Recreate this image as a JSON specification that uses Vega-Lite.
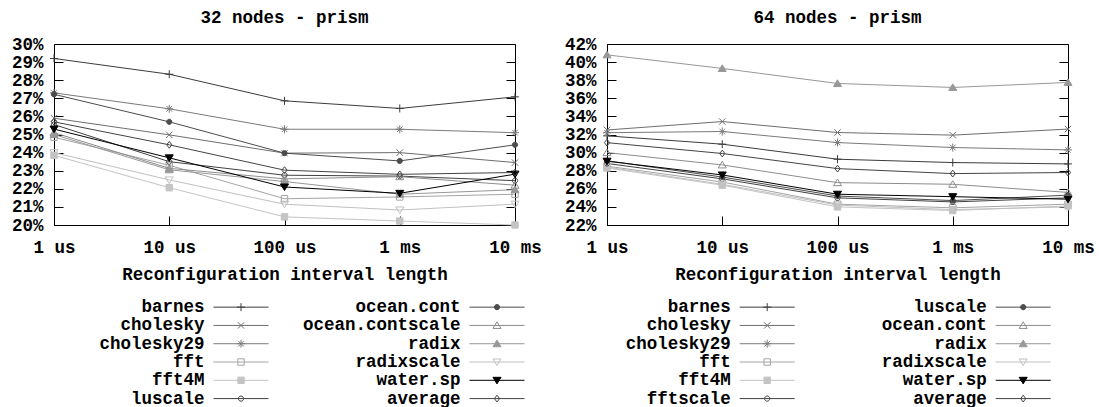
{
  "$schema": "https://vega.github.io/schema/vega-lite/v6.json",
  "padding": {"left": 10, "top": 8, "right": 5, "bottom": 0},
  "autosize": {"type": "pad"},
  "bounds": "flush",
  "spacing": 92,
  "resolve": {"scale": {"stroke": "independent", "shape": "independent", "fill": "independent"}},
  "config": {
    "font": "Liberation Mono",
    "view": {"stroke": "#000000", "strokeWidth": 1},
    "axis": {
      "labelFont": "Liberation Mono", "labelFontSize": 17.5, "labelFontWeight": "bold", "labelColor": "#000000",
      "titleFont": "Liberation Mono", "titleFontSize": 17.5, "titleFontWeight": "bold", "titleColor": "#000000",
      "domain": false, "grid": false, "tickColor": "#000000", "tickSize": -9, "tickWidth": 1
    },
    "title": {"font": "Liberation Mono", "fontSize": 17.5, "fontWeight": "bold", "color": "#000000", "offset": 9},
    "text": {"font": "Liberation Mono", "fontSize": 17.5, "fontWeight": "bold", "color": "#000000"}
  },
  "datasets": {
    "L": [
      {"x": "1 us", "series": "barnes", "v": 29.2}, {"x": "10 us", "series": "barnes", "v": 28.33}, {"x": "100 us", "series": "barnes", "v": 26.86}, {"x": "1 ms", "series": "barnes", "v": 26.44}, {"x": "10 ms", "series": "barnes", "v": 27.08},
      {"x": "1 us", "series": "cholesky", "v": 25.9}, {"x": "10 us", "series": "cholesky", "v": 24.98}, {"x": "100 us", "series": "cholesky", "v": 23.97}, {"x": "1 ms", "series": "cholesky", "v": 24.0}, {"x": "10 ms", "series": "cholesky", "v": 23.45},
      {"x": "1 us", "series": "cholesky29", "v": 27.3}, {"x": "10 us", "series": "cholesky29", "v": 26.42}, {"x": "100 us", "series": "cholesky29", "v": 25.29}, {"x": "1 ms", "series": "cholesky29", "v": 25.29}, {"x": "10 ms", "series": "cholesky29", "v": 25.1},
      {"x": "1 us", "series": "fft", "v": 24.85}, {"x": "10 us", "series": "fft", "v": 23.3}, {"x": "100 us", "series": "fft", "v": 21.45}, {"x": "1 ms", "series": "fft", "v": 21.55}, {"x": "10 ms", "series": "fft", "v": 21.7},
      {"x": "1 us", "series": "fft4M", "v": 23.85}, {"x": "10 us", "series": "fft4M", "v": 22.06}, {"x": "100 us", "series": "fft4M", "v": 20.45}, {"x": "1 ms", "series": "fft4M", "v": 20.22}, {"x": "10 ms", "series": "fft4M", "v": 20.0},
      {"x": "1 us", "series": "luscale", "v": 25.55}, {"x": "10 us", "series": "luscale", "v": 23.5}, {"x": "100 us", "series": "luscale", "v": 22.75}, {"x": "1 ms", "series": "luscale", "v": 22.7}, {"x": "10 ms", "series": "luscale", "v": 22.45},
      {"x": "1 us", "series": "ocean.cont", "v": 27.22}, {"x": "10 us", "series": "ocean.cont", "v": 25.7}, {"x": "100 us", "series": "ocean.cont", "v": 23.97}, {"x": "1 ms", "series": "ocean.cont", "v": 23.54}, {"x": "10 ms", "series": "ocean.cont", "v": 24.43},
      {"x": "1 us", "series": "ocean.contscale", "v": 25.1}, {"x": "10 us", "series": "ocean.contscale", "v": 23.13}, {"x": "100 us", "series": "ocean.contscale", "v": 22.55}, {"x": "1 ms", "series": "ocean.contscale", "v": 22.67}, {"x": "10 ms", "series": "ocean.contscale", "v": 22.2},
      {"x": "1 us", "series": "radix", "v": 25.0}, {"x": "10 us", "series": "radix", "v": 23.05}, {"x": "100 us", "series": "radix", "v": 22.4}, {"x": "1 ms", "series": "radix", "v": 21.7}, {"x": "10 ms", "series": "radix", "v": 21.95},
      {"x": "1 us", "series": "radixscale", "v": 24.0}, {"x": "10 us", "series": "radixscale", "v": 22.49}, {"x": "100 us", "series": "radixscale", "v": 21.15}, {"x": "1 ms", "series": "radixscale", "v": 20.83}, {"x": "10 ms", "series": "radixscale", "v": 21.15},
      {"x": "1 us", "series": "water.sp", "v": 25.3}, {"x": "10 us", "series": "water.sp", "v": 23.71}, {"x": "100 us", "series": "water.sp", "v": 22.1}, {"x": "1 ms", "series": "water.sp", "v": 21.75}, {"x": "10 ms", "series": "water.sp", "v": 22.81},
      {"x": "1 us", "series": "average", "v": 25.7}, {"x": "10 us", "series": "average", "v": 24.43}, {"x": "100 us", "series": "average", "v": 23.03}, {"x": "1 ms", "series": "average", "v": 22.8}, {"x": "10 ms", "series": "average", "v": 22.9}
    ],
    "R": [
      {"x": "1 us", "series": "barnes", "v": 31.85}, {"x": "10 us", "series": "barnes", "v": 30.93}, {"x": "100 us", "series": "barnes", "v": 29.27}, {"x": "1 ms", "series": "barnes", "v": 28.9}, {"x": "10 ms", "series": "barnes", "v": 28.75},
      {"x": "1 us", "series": "cholesky", "v": 32.5}, {"x": "10 us", "series": "cholesky", "v": 33.43}, {"x": "100 us", "series": "cholesky", "v": 32.22}, {"x": "1 ms", "series": "cholesky", "v": 31.93}, {"x": "10 ms", "series": "cholesky", "v": 32.6},
      {"x": "1 us", "series": "cholesky29", "v": 32.2}, {"x": "10 us", "series": "cholesky29", "v": 32.33}, {"x": "100 us", "series": "cholesky29", "v": 31.11}, {"x": "1 ms", "series": "cholesky29", "v": 30.56}, {"x": "10 ms", "series": "cholesky29", "v": 30.3},
      {"x": "1 us", "series": "fft", "v": 28.5}, {"x": "10 us", "series": "fft", "v": 26.75}, {"x": "100 us", "series": "fft", "v": 24.3}, {"x": "1 ms", "series": "fft", "v": 23.9}, {"x": "10 ms", "series": "fft", "v": 24.3},
      {"x": "1 us", "series": "fft4M", "v": 28.3}, {"x": "10 us", "series": "fft4M", "v": 26.4}, {"x": "100 us", "series": "fft4M", "v": 24.0}, {"x": "1 ms", "series": "fft4M", "v": 23.6}, {"x": "10 ms", "series": "fft4M", "v": 24.1},
      {"x": "1 us", "series": "fftscale", "v": 28.8}, {"x": "10 us", "series": "fftscale", "v": 27.1}, {"x": "100 us", "series": "fftscale", "v": 25.0}, {"x": "1 ms", "series": "fftscale", "v": 24.55}, {"x": "10 ms", "series": "fftscale", "v": 25.0},
      {"x": "1 us", "series": "luscale", "v": 29.1}, {"x": "10 us", "series": "luscale", "v": 27.3}, {"x": "100 us", "series": "luscale", "v": 25.2}, {"x": "1 ms", "series": "luscale", "v": 24.7}, {"x": "10 ms", "series": "luscale", "v": 25.3},
      {"x": "1 us", "series": "ocean.cont", "v": 30.0}, {"x": "10 us", "series": "ocean.cont", "v": 28.64}, {"x": "100 us", "series": "ocean.cont", "v": 26.68}, {"x": "1 ms", "series": "ocean.cont", "v": 26.5}, {"x": "10 ms", "series": "ocean.cont", "v": 25.6},
      {"x": "1 us", "series": "radix", "v": 40.8}, {"x": "10 us", "series": "radix", "v": 39.3}, {"x": "100 us", "series": "radix", "v": 37.64}, {"x": "1 ms", "series": "radix", "v": 37.2}, {"x": "10 ms", "series": "radix", "v": 37.75},
      {"x": "1 us", "series": "radixscale", "v": 28.4}, {"x": "10 us", "series": "radixscale", "v": 26.5}, {"x": "100 us", "series": "radixscale", "v": 24.2}, {"x": "1 ms", "series": "radixscale", "v": 23.7}, {"x": "10 ms", "series": "radixscale", "v": 24.0},
      {"x": "1 us", "series": "water.sp", "v": 29.05}, {"x": "10 us", "series": "water.sp", "v": 27.53}, {"x": "100 us", "series": "water.sp", "v": 25.4}, {"x": "1 ms", "series": "water.sp", "v": 25.13}, {"x": "10 ms", "series": "water.sp", "v": 24.85},
      {"x": "1 us", "series": "average", "v": 31.1}, {"x": "10 us", "series": "average", "v": 29.9}, {"x": "100 us", "series": "average", "v": 28.23}, {"x": "1 ms", "series": "average", "v": 27.68}, {"x": "10 ms", "series": "average", "v": 27.8}
    ],
    "LL": [
      {"series": "barnes", "col": 1, "row": 1}, {"series": "cholesky", "col": 1, "row": 2}, {"series": "cholesky29", "col": 1, "row": 3},
      {"series": "fft", "col": 1, "row": 4}, {"series": "fft4M", "col": 1, "row": 5}, {"series": "luscale", "col": 1, "row": 6},
      {"series": "ocean.cont", "col": 2, "row": 1}, {"series": "ocean.contscale", "col": 2, "row": 2}, {"series": "radix", "col": 2, "row": 3},
      {"series": "radixscale", "col": 2, "row": 4}, {"series": "water.sp", "col": 2, "row": 5}, {"series": "average", "col": 2, "row": 6}
    ],
    "LR": [
      {"series": "barnes", "col": 1, "row": 1}, {"series": "cholesky", "col": 1, "row": 2}, {"series": "cholesky29", "col": 1, "row": 3},
      {"series": "fft", "col": 1, "row": 4}, {"series": "fft4M", "col": 1, "row": 5}, {"series": "fftscale", "col": 1, "row": 6},
      {"series": "luscale", "col": 2, "row": 1}, {"series": "ocean.cont", "col": 2, "row": 2}, {"series": "radix", "col": 2, "row": 3},
      {"series": "radixscale", "col": 2, "row": 4}, {"series": "water.sp", "col": 2, "row": 5}, {"series": "average", "col": 2, "row": 6}
    ]
  },
  "hconcat": [
    {
      "width": 461, "height": 181,
      "title": {"text": "32 nodes - prism"},
      "resolve": {"scale": {"x": "independent", "y": "independent"}},
      "layer": [
        {
          "data": {"name": "L"},
          "encoding": {
            "x": {"field": "x", "type": "ordinal", "sort": ["1 us", "10 us", "100 us", "1 ms", "10 ms"], "scale": {"type": "point", "padding": 0}, "axis": {"labelAngle": 0, "labelPadding": 22, "titlePadding": 10}, "title": "Reconfiguration interval length"},
            "y": {"field": "v", "type": "quantitative", "scale": {"domain": [20, 30], "nice": false, "zero": false}, "axis": {"values": [20, 21, 22, 23, 24, 25, 26, 27, 28, 29, 30], "labelExpr": "datum.value + '%'", "labelPadding": 20}, "title": null},
            "stroke": {"field": "series", "type": "nominal", "scale": {"domain": ["barnes", "cholesky", "cholesky29", "fft", "fft4M", "luscale", "ocean.cont", "ocean.contscale", "radix", "radixscale", "water.sp", "average"], "range": ["#3c3c3c", "#6e6e6e", "#7a7a7a", "#a4a4a4", "#c4c4c4", "#404040", "#4c4c4c", "#8c8c8c", "#989898", "#c0c0c0", "#000000", "#444444"]}, "legend": null},
            "detail": {"field": "series"}
          },
          "layer": [
            {"mark": {"type": "line", "strokeWidth": 1}},
            {"mark": {"type": "point", "size": 64, "strokeWidth": 1, "opacity": 1},
             "encoding": {
               "shape": {"field": "series", "type": "nominal", "scale": {"domain": ["barnes", "cholesky", "cholesky29", "fft", "fft4M", "luscale", "ocean.cont", "ocean.contscale", "radix", "radixscale", "water.sp", "average"], "range": ["M-1,0L1,0M0,-1L0,1", "M-0.8,-0.8L0.8,0.8M-0.8,0.8L0.8,-0.8", "M-1,0L1,0M0,-1L0,1M-0.7,-0.7L0.7,0.7M-0.7,0.7L0.7,-0.7", "M-0.8,-0.8L0.8,-0.8L0.8,0.8L-0.8,0.8Z", "M-0.8,-0.8L0.8,-0.8L0.8,0.8L-0.8,0.8Z", "M-0.65,0A0.65,0.65 0 1,0 0.65,0A0.65,0.65 0 1,0 -0.65,0Z", "M-0.65,0A0.65,0.65 0 1,0 0.65,0A0.65,0.65 0 1,0 -0.65,0Z", "M0,-0.9L1,0.75L-1,0.75Z", "M0,-0.9L1,0.75L-1,0.75Z", "M0,0.9L1,-0.75L-1,-0.75Z", "M0,0.9L1,-0.75L-1,-0.75Z", "M0,-0.85L0.65,0L0,0.85L-0.65,0Z"]}, "legend": null},
               "fill": {"field": "series", "type": "nominal", "scale": {"domain": ["barnes", "cholesky", "cholesky29", "fft", "fft4M", "luscale", "ocean.cont", "ocean.contscale", "radix", "radixscale", "water.sp", "average"], "range": ["transparent", "transparent", "transparent", "transparent", "#c4c4c4", "transparent", "#4c4c4c", "transparent", "#989898", "transparent", "#000000", "transparent"]}, "legend": null}
             }}
          ]
        },
        {
          "data": {"name": "L"},
          "mark": {"type": "point", "opacity": 0},
          "encoding": {
            "x": {"field": "x", "type": "ordinal", "scale": {"type": "point", "padding": 0}, "axis": null},
            "y": {"field": "v", "type": "quantitative", "scale": {"domain": [20, 30], "nice": false, "zero": false}, "axis": {"orient": "right", "values": [20, 21, 22, 23, 24, 25, 26, 27, 28, 29, 30], "labels": false, "title": null}}
          }
        },
        {
          "data": {"name": "LL"},
          "encoding": {
            "x": {"field": "col", "type": "quantitative", "scale": {"domain": [0.4121, 2.2129], "nice": false, "zero": false}, "axis": null},
            "y": {"field": "row", "type": "quantitative", "scale": {"domain": [-13.387, -3.491], "reverse": true, "nice": false, "zero": false}, "axis": null}
          },
          "layer": [
            {"mark": {"type": "rule", "xOffset": 9, "x2Offset": 64, "strokeWidth": 1},
             "encoding": {"x2": {"field": "col"}, "stroke": {"field": "series", "type": "nominal", "legend": null}}},
            {"mark": {"type": "point", "xOffset": 36.5, "size": 64, "strokeWidth": 1, "opacity": 1},
             "encoding": {"stroke": {"field": "series", "type": "nominal", "legend": null}, "shape": {"field": "series", "type": "nominal", "legend": null}, "fill": {"field": "series", "type": "nominal", "legend": null}}},
            {"mark": {"type": "text", "align": "right", "baseline": "middle"},
             "encoding": {"text": {"field": "series"}}}
          ]
        }
      ]
    },
    {
      "width": 461, "height": 181,
      "title": {"text": "64 nodes - prism"},
      "resolve": {"scale": {"x": "independent", "y": "independent"}},
      "layer": [
        {
          "data": {"name": "R"},
          "encoding": {
            "x": {"field": "x", "type": "ordinal", "sort": ["1 us", "10 us", "100 us", "1 ms", "10 ms"], "scale": {"type": "point", "padding": 0}, "axis": {"labelAngle": 0, "labelPadding": 22, "titlePadding": 10}, "title": "Reconfiguration interval length"},
            "y": {"field": "v", "type": "quantitative", "scale": {"domain": [22, 42], "nice": false, "zero": false}, "axis": {"values": [22, 24, 26, 28, 30, 32, 34, 36, 38, 40, 42], "labelExpr": "datum.value + '%'", "labelPadding": 20}, "title": null},
            "stroke": {"field": "series", "type": "nominal", "scale": {"domain": ["barnes", "cholesky", "cholesky29", "fft", "fft4M", "fftscale", "luscale", "ocean.cont", "radix", "radixscale", "water.sp", "average"], "range": ["#3c3c3c", "#6e6e6e", "#7a7a7a", "#a4a4a4", "#c4c4c4", "#404040", "#4c4c4c", "#8c8c8c", "#989898", "#c0c0c0", "#000000", "#444444"]}, "legend": null},
            "detail": {"field": "series"}
          },
          "layer": [
            {"mark": {"type": "line", "strokeWidth": 1}},
            {"mark": {"type": "point", "size": 64, "strokeWidth": 1, "opacity": 1},
             "encoding": {
               "shape": {"field": "series", "type": "nominal", "scale": {"domain": ["barnes", "cholesky", "cholesky29", "fft", "fft4M", "fftscale", "luscale", "ocean.cont", "radix", "radixscale", "water.sp", "average"], "range": ["M-1,0L1,0M0,-1L0,1", "M-0.8,-0.8L0.8,0.8M-0.8,0.8L0.8,-0.8", "M-1,0L1,0M0,-1L0,1M-0.7,-0.7L0.7,0.7M-0.7,0.7L0.7,-0.7", "M-0.8,-0.8L0.8,-0.8L0.8,0.8L-0.8,0.8Z", "M-0.8,-0.8L0.8,-0.8L0.8,0.8L-0.8,0.8Z", "M-0.65,0A0.65,0.65 0 1,0 0.65,0A0.65,0.65 0 1,0 -0.65,0Z", "M-0.65,0A0.65,0.65 0 1,0 0.65,0A0.65,0.65 0 1,0 -0.65,0Z", "M0,-0.9L1,0.75L-1,0.75Z", "M0,-0.9L1,0.75L-1,0.75Z", "M0,0.9L1,-0.75L-1,-0.75Z", "M0,0.9L1,-0.75L-1,-0.75Z", "M0,-0.85L0.65,0L0,0.85L-0.65,0Z"]}, "legend": null},
               "fill": {"field": "series", "type": "nominal", "scale": {"domain": ["barnes", "cholesky", "cholesky29", "fft", "fft4M", "fftscale", "luscale", "ocean.cont", "radix", "radixscale", "water.sp", "average"], "range": ["transparent", "transparent", "transparent", "transparent", "#c4c4c4", "transparent", "#4c4c4c", "transparent", "#989898", "transparent", "#000000", "transparent"]}, "legend": null}
             }}
          ]
        },
        {
          "data": {"name": "R"},
          "mark": {"type": "point", "opacity": 0},
          "encoding": {
            "x": {"field": "x", "type": "ordinal", "scale": {"type": "point", "padding": 0}, "axis": null},
            "y": {"field": "v", "type": "quantitative", "scale": {"domain": [22, 42], "nice": false, "zero": false}, "axis": {"orient": "right", "values": [22, 24, 26, 28, 30, 32, 34, 36, 38, 40, 42], "labels": false, "title": null}}
          }
        },
        {
          "data": {"name": "LR"},
          "encoding": {
            "x": {"field": "col", "type": "quantitative", "scale": {"domain": [0.5168, 2.3176], "nice": false, "zero": false}, "axis": null},
            "y": {"field": "row", "type": "quantitative", "scale": {"domain": [-13.387, -3.491], "reverse": true, "nice": false, "zero": false}, "axis": null}
          },
          "layer": [
            {"mark": {"type": "rule", "xOffset": 9, "x2Offset": 64, "strokeWidth": 1},
             "encoding": {"x2": {"field": "col"}, "stroke": {"field": "series", "type": "nominal", "legend": null}}},
            {"mark": {"type": "point", "xOffset": 36.5, "size": 64, "strokeWidth": 1, "opacity": 1},
             "encoding": {"stroke": {"field": "series", "type": "nominal", "legend": null}, "shape": {"field": "series", "type": "nominal", "legend": null}, "fill": {"field": "series", "type": "nominal", "legend": null}}},
            {"mark": {"type": "text", "align": "right", "baseline": "middle"},
             "encoding": {"text": {"field": "series"}}}
          ]
        }
      ]
    }
  ]
}
